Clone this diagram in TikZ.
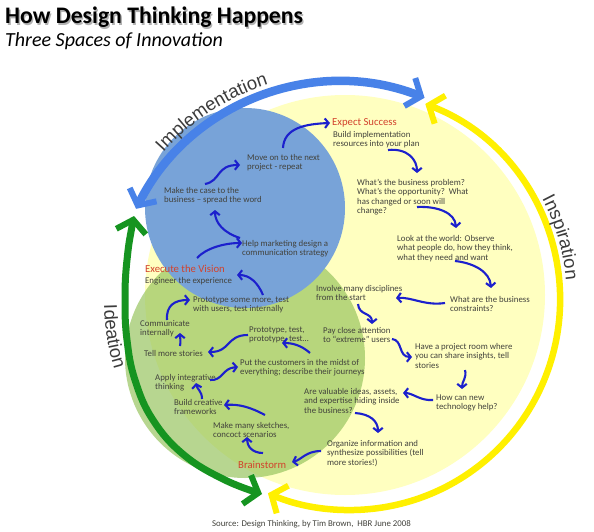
\documentclass[tikz,border=0pt]{standalone}
\usepackage{fontspec}
\setmainfont{Carlito}
\newfontfamily\arialfont{Liberation Sans}
\usetikzlibrary{arrows.meta,decorations.text}
\definecolor{pyellow}{RGB}{255,255,192}
\definecolor{pgreen}{RGB}{150,196,92}
\definecolor{pblue}{RGB}{120,163,216}
\definecolor{arcblue}{RGB}{72,130,232}
\definecolor{arcyellow}{RGB}{255,240,0}
\definecolor{arcgreen}{RGB}{22,148,32}
\definecolor{conblue}{RGB}{28,32,205}
\definecolor{txtgray}{RGB}{66,66,60}
\definecolor{headred}{RGB}{210,66,44}
\definecolor{labelgray}{RGB}{60,60,60}
\newcommand\arclabelfont{\arialfont\fontsize{18.5}{20}\selectfont}
\begin{document}
\begin{tikzpicture}[x=1pt,y=1pt,
  txt/.style={font=\fontsize{8.8}{9.6}\selectfont, text=txtgray, align=left, anchor=base west, inner sep=0pt},
  head/.style={font=\fontsize{10.7}{12}\selectfont, text=headred, anchor=base west, inner sep=0pt},
  con/.style={draw=conblue, line width=2.1pt, -{Straight Barb[length=3.8pt,width=9.5pt]}},
  bigtips/.style={{Straight Barb[length=12pt,width=30pt,line width=6pt]}-{Straight Barb[length=12pt,width=30pt,line width=6pt]}},
  arclabel/.style={decorate, decoration={text along path, text align=center, text color=labelgray, text={|\arclabelfont|#1}}},
]
\useasboundingbox (0,0) rectangle (594,-532);
\fill[white] (0,0) rectangle (594,-532);

% three spaces
\fill[pyellow] (345,-295) circle[radius=200];
\fill[pgreen, fill opacity=0.68] (245,-358) circle[radius=120];
\fill[pblue] (245,-208) circle[radius=100];

% big cycle arrows
\draw[arcblue, line width=8.5pt, bigtips] (341,-311) ++(153.5:229) arc[start angle=153.5, end angle=68.6, radius=229];
\draw[arcyellow, line width=6.5pt, bigtips] (350,-300) ++(69:210) arc[start angle=69, end angle=-113, radius=210];
\draw[arcgreen, line width=7pt, bigtips] plot[smooth, tension=0.7] coordinates {(134,-216) (127,-260) (125,-300) (127,-340) (135,-380) (153,-420) (184,-455) (225,-480) (262,-494)};

% arc labels
\path[arclabel=Implementation] (341,-311) ++(153:238) arc[start angle=153, end angle=93, radius=238];
\path[arclabel=Inspiration] (350,-300) ++(46.5:217) arc[start angle=46.5, end angle=-13.5, radius=217];
\path[arclabel=Ideation] (345,-300) ++(172:241) arc[start angle=172, end angle=206, radius=241];

% title
\node[anchor=base west, inner sep=0pt, font=\fontsize{23.7}{26}\selectfont\bfseries, text=black!30] (titleshadow) at (6.3,-25.3) {How Design Thinking Happens};
\node[anchor=base west, inner sep=0pt, font=\fontsize{23.7}{26}\selectfont\bfseries, text=black] (title) at (5,-24) {How Design Thinking Happens};
\node[anchor=base west, inner sep=0pt, font=\fontsize{20}{22}\selectfont\itshape, text=black] (subtitle) at (5,-47) {Three Spaces of Innovation};
\node[anchor=base west, inner sep=0pt, font=\fontsize{8.8}{10}\selectfont, text=txtgray] (source) at (212,-526) {Source: Design Thinking, by Tim Brown,\ \ HBR June 2008};

% texts (anchor = baseline of the last line)
\node[head] (expect) at (332,-126) {Expect Success};
\node[txt] (build) at (333,-146.6) {Build implementation\\resources into your plan};
\node[txt] (problem) at (357,-213.8) {What’s the business problem?\\What’s the opportunity?\ \ What\\has changed or soon will\\change?};
\node[txt] (look) at (397,-260.2) {Look at the world: Observe\\what people do, how they think,\\what they need and want};
\node[txt] (constr) at (450,-311.6) {What are the business\\constraints?};
\node[txt] (involve) at (316,-300.6) {Involve many disciplines\\from the start};
\node[txt] (pay) at (323,-342.6) {Pay close attention\\to “extreme” users};
\node[txt] (room) at (415,-368.2) {Have a project room where\\you can share insights, tell\\stories};
\node[txt] (tech) at (436,-409.6) {How can new\\technology help?};
\node[txt] (valuable) at (304,-413.2) {Are valuable ideas, assets,\\and expertise hiding inside\\the business?};
\node[txt] (organize) at (327,-465.2) {Organize information and\\synthesize possibilities (tell\\more stories!)};
\node[head] (brain) at (238,-468) {Brainstorm};
\node[txt] (sketch) at (213,-437.6) {Make many sketches,\\concoct scenarios};
\node[txt] (frame) at (174,-414.6) {Build creative\\frameworks};
\node[txt] (apply) at (155,-389.6) {Apply integrative\\thinking};
\node[txt] (customers) at (240,-374.6) {Put the customers in the midst of\\everything; describe their journeys};
\node[txt] (prototest) at (249,-341.6) {Prototype, test,\\prototype, test…};
\node[txt] (tell) at (144,-356) {Tell more stories};
\node[txt] (comm) at (140,-335.6) {Communicate\\internally};
\node[txt] (protomore) at (193,-311.6) {Prototype some more, test\\with users, test internally};
\node[head] (execute) at (145,-272) {Execute the Vision};
\node[txt] (engineer) at (145,-283) {Engineer the experience};
\node[txt] (market) at (242,-255.6) {Help marketing design a\\communication strategy};
\node[txt] (case) at (164,-202.6) {Make the case to the\\business – spread the word};
\node[txt] (moveon) at (247,-169.6) {Move on to the next\\project - repeat};

% connector end points
\coordinate (c1s) at (283,-148);  \coordinate (c1e) at (330,-123);
\coordinate (c2s) at (388,-150);  \coordinate (c2e) at (417,-173);
\coordinate (c3s) at (417,-207);  \coordinate (c3e) at (456,-228);
\coordinate (c4s) at (455,-261);  \coordinate (c4e) at (491,-288);
\coordinate (c5s) at (445,-303);  \coordinate (c5e) at (396,-298);
\coordinate (c6s) at (358,-304);  \coordinate (c6e) at (372,-324);
\coordinate (c7s) at (392,-339);  \coordinate (c7e) at (412,-357);
\coordinate (c8s) at (465,-370);  \coordinate (c8e) at (462,-389);
\coordinate (c9s) at (433,-400);  \coordinate (c9e) at (403,-393);
\coordinate (c10s) at (355,-413); \coordinate (c10e) at (378,-433);
\coordinate (c11s) at (321,-451); \coordinate (c11e) at (292,-462);
\coordinate (c12s) at (263,-453); \coordinate (c12e) at (247,-437);
\coordinate (c13s) at (265,-415); \coordinate (c13e) at (224,-405);
\coordinate (c14s) at (202,-399); \coordinate (c14e) at (196,-383);
\coordinate (c15s) at (210,-380); \coordinate (c15e) at (238,-367);
\coordinate (c16s) at (310,-353); \coordinate (c16e) at (282,-343);
\coordinate (c17s) at (248,-335); \coordinate (c17e) at (208,-352);
\coordinate (c18s) at (180,-346); \coordinate (c18e) at (180,-333);
\coordinate (c19s) at (167,-320); \coordinate (c19e) at (190,-300);
\coordinate (c20s) at (263,-295); \coordinate (c20e) at (237,-275);
\coordinate (c21s) at (197,-258); \coordinate (c21e) at (242,-243);
\coordinate (c22s) at (240,-238); \coordinate (c22e) at (215,-210);
\coordinate (c23s) at (205,-184); \coordinate (c23e) at (240,-165);

% connectors
\draw[con] (c1s) .. controls (284,-128) and (305,-124) .. (c1e);
\draw[con] (c2s) .. controls (408,-148) and (417,-160) .. (c2e);
\draw[con] (c3s) .. controls (438,-206) and (455,-213) .. (c3e);
\draw[con] (c4s) .. controls (474,-263) and (490,-272) .. (c4e);
\draw[con] (c5s) .. controls (425,-306) and (412,-297) .. (c5e);
\draw[con] (c6s) .. controls (359,-316) and (372,-312) .. (c6e);
\draw[con] (c7s) .. controls (403,-340) and (398,-357) .. (c7e);
\draw[con] (c8s) .. controls (467,-378) and (462,-381) .. (c8e);
\draw[con] (c9s) .. controls (420,-401) and (413,-393) .. (c9e);
\draw[con] (c10s) .. controls (370,-414) and (378,-421) .. (c10e);
\draw[con] (c11s) .. controls (306,-451) and (301,-460) .. (c11e);
\draw[con] (c12s) .. controls (252,-453) and (247,-446) .. (c12e);
\draw[con] (c13s) .. controls (250,-407) and (239,-404) .. (c13e);
\draw[con] (c14s) .. controls (202,-391) and (197,-389) .. (c14e);
\draw[con] (c15s) .. controls (223,-381) and (222,-368) .. (c15e);
\draw[con] (c16s) .. controls (301,-345) and (292,-343) .. (c16e);
\draw[con] (c17s) .. controls (226,-335) and (231,-352) .. (c17e);
\draw[con] (c18s) .. controls (181,-341) and (180,-338) .. (c18e);
\draw[con] (c19s) .. controls (166,-305) and (175,-300) .. (c19e);
\draw[con] (c20s) .. controls (258,-283) and (250,-275) .. (c20e);
\draw[con] (c21s) .. controls (206,-248) and (225,-243) .. (c21e);
\draw[con] (c22s) .. controls (224,-233) and (215,-223) .. (c22e);
\draw[con] (c23s) .. controls (221,-181) and (216,-165) .. (c23e);
\end{tikzpicture}
\end{document}
